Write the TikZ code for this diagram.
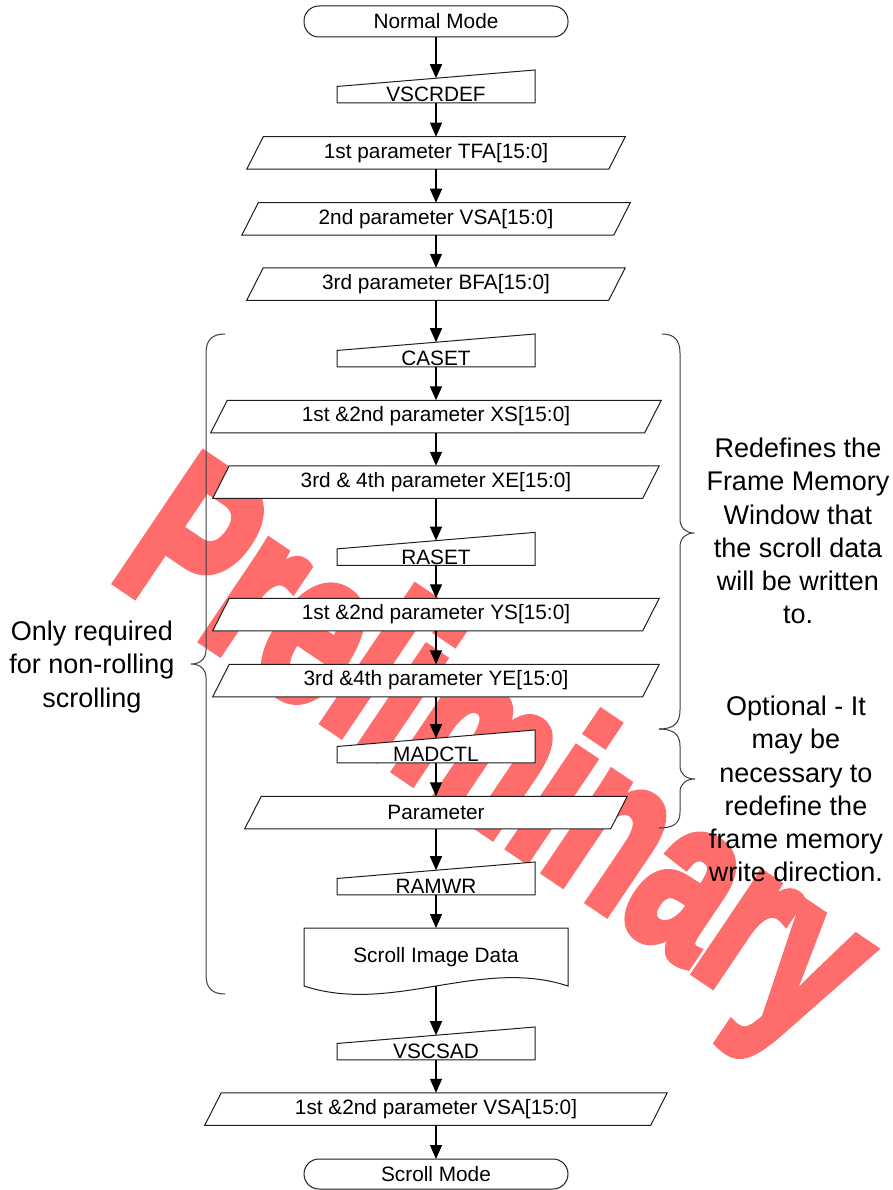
\documentclass[tikz,border=0pt]{standalone}
\usepackage{fontspec}
\setmainfont{Liberation Sans}
\newfontfamily\wmfont{Liberation Sans}[BoldFeatures={FakeBold=4.5}]
\usetikzlibrary{arrows.meta}
\pgfdeclarelayer{wm}
\pgfdeclarelayer{boxes}
\pgfsetlayers{wm,boxes,main}
\definecolor{wmred}{RGB}{255,108,108}
\definecolor{lineg}{RGB}{30,30,30}
\definecolor{braceg}{RGB}{60,60,60}
\newcommand{\drawpgram}[1]{\path[shapeline] ([xshift=8.25pt]#1.north west) -- ([xshift=8.25pt]#1.north east) -- ([xshift=-8.25pt]#1.south east) -- ([xshift=-8.25pt]#1.south west) -- cycle;}
\newcommand{\drawminp}[1]{\path[shapeline] (#1.south west) -- (#1.south east) -- ([yshift=8.25pt]#1.north east) -- ([yshift=-8.25pt]#1.north west) -- cycle;}
\begin{document}
\begin{tikzpicture}[x=1pt,y=-1pt,
  txt/.style={font=\fontsize{20.8}{25}\selectfont, inner sep=0pt, outer sep=0pt},
  term/.style={txt, minimum width=264pt, minimum height=31pt},
  pgm/.style={txt, minimum height=32.5pt},
  minp/.style={txt, minimum width=198pt, minimum height=24.75pt, text height=22pt, text depth=0pt},
  docu/.style={txt, minimum width=264pt, minimum height=58pt},
  shapeline/.style={draw=lineg, line width=1pt, fill=white},
  conn/.style={line width=1.4pt, draw=black, -{Triangle[length=14pt,width=12pt]}},
  bracel/.style={draw=braceg, line width=1pt},
  side/.style={font=\fontsize{27}{33.3}\selectfont, align=center, inner sep=0pt}
]
\useasboundingbox (0,0) rectangle (893,1190);
\begin{pgfonlayer}{wm}
\fill[white] (0,0) rectangle (893,1190);
\begin{scope}[shift={(108,576)}, rotate=-34, yscale=1.44, transform shape]
\node[anchor=base west, inner sep=0pt, text=wmred, font=\wmfont\fontsize{155}{155}\selectfont\bfseries] (wmark) at (0,0) {Preliminary};
\end{scope}
\end{pgfonlayer}

% nodes
\node[term] (nm) at (436,21.5) {Normal Mode};
\node[minp] (vscrdef) at (436,90.6) {VSCRDEF};
\node[pgm, minimum width=362pt] (tfa) at (436,153) {1st parameter TFA[15:0]};
\node[pgm, minimum width=372pt] (vsa) at (436,219) {2nd parameter VSA[15:0]};
\node[pgm, minimum width=362pt] (bfa) at (436,284) {3rd parameter BFA[15:0]};
\node[minp] (caset) at (436,354.6) {CASET};
\node[pgm, minimum width=434pt] (xs) at (436,416.5) {1st \&2nd parameter XS[15:0]};
\node[pgm, minimum width=430pt] (xe) at (436,482) {3rd \& 4th parameter XE[15:0]};
\node[minp] (raset) at (436,553) {RASET};
\node[pgm, minimum width=430pt] (ys) at (436,614.5) {1st \&2nd parameter YS[15:0]};
\node[pgm, minimum width=430pt] (ye) at (436,680.5) {3rd \&4th parameter YE[15:0]};
\node[minp] (madctl) at (436,750.6) {MADCTL};
\node[pgm, minimum width=366pt] (param) at (436,812.5) {Parameter};
\node[minp] (ramwr) at (436,882.6) {RAMWR};
\node[docu] (sid) at (436,957) {Scroll Image Data};
\node[minp] (vscsad) at (436,1047.6) {VSCSAD};
\node[pgm, minimum width=446pt] (vsa2) at (436,1109) {1st \&2nd parameter VSA[15:0]};
\node[term, minimum height=30pt] (sm) at (436,1174) {Scroll Mode};

% shapes
\begin{pgfonlayer}{boxes}
\path[shapeline, rounded corners=15pt] (nm.south west) rectangle (nm.north east);
\path[shapeline, rounded corners=15pt] (sm.south west) rectangle (sm.north east);
\drawminp{vscrdef}
\drawminp{caset}
\drawminp{raset}
\drawminp{madctl}
\drawminp{ramwr}
\drawminp{vscsad}
\drawpgram{tfa}
\drawpgram{vsa}
\drawpgram{bfa}
\drawpgram{xs}
\drawpgram{xe}
\drawpgram{ys}
\drawpgram{ye}
\drawpgram{param}
\drawpgram{vsa2}
\path[shapeline] (sid.north west) -- (sid.north east) -- (sid.south east)
  .. controls (480,957) and (392,1015) .. (sid.south west) -- cycle;
\end{pgfonlayer}

% connectors
\draw[conn] (nm) -- (vscrdef);
\draw[conn] (vscrdef) -- (tfa);
\draw[conn] (tfa) -- (vsa);
\draw[conn] (vsa) -- (bfa);
\draw[conn] (bfa) -- (caset);
\draw[conn] (caset) -- (xs);
\draw[conn] (xs) -- (xe);
\draw[conn] (xe) -- (raset);
\draw[conn] (raset) -- (ys);
\draw[conn] (ys) -- (ye);
\draw[conn] (ye) -- (madctl);
\draw[conn] (madctl) -- (param);
\draw[conn] (param) -- (ramwr);
\draw[conn] (ramwr) -- (sid);
\draw[conn] (sid) -- (vscsad);
\draw[conn] (vscsad) -- (vsa2);
\draw[conn] (vsa2) -- (sm);

% braces
\draw[bracel] (225,334) .. controls (212,334) and (206,340) .. (206,353) -- (206,650)
  .. controls (206,659) and (200,664) .. (191,664)
  .. controls (200,664) and (206,669) .. (206,678) -- (206,975)
  .. controls (206,988) and (212,994) .. (225,994);
\draw[bracel] (662,334) .. controls (674,334) and (680,340) .. (680,353) -- (680,519)
  .. controls (680,528) and (686,533) .. (694,533)
  .. controls (686,533) and (680,538) .. (680,547) -- (680,710)
  .. controls (680,723) and (674,729) .. (659,729);
\draw[bracel] (659,729) .. controls (674,729) and (680,735) .. (680,746) -- (680,766)
  .. controls (680,774) and (686,779) .. (695,779)
  .. controls (686,779) and (680,784) .. (680,792) -- (680,812)
  .. controls (680,823) and (674,828) .. (659,828);

% side texts
\node[side] (lt) at (92,667) {Only required\\for non-rolling\\scrolling};
\node[side] (rt1) at (798,531) {Redefines the\\Frame Memory\\Window that\\the scroll data\\will be written\\to.};
\node[side] (rt2) at (796,789) {Optional - It\\may be\\necessary to\\redefine the\\frame memory\\write direction.};
\end{tikzpicture}
\end{document}
